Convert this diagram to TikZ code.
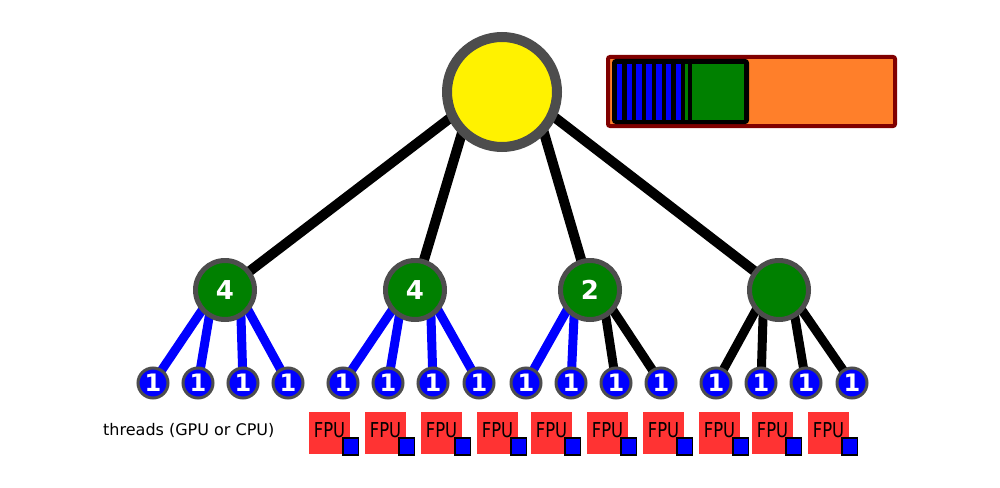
\documentclass[tikz,border=0pt]{standalone}
\usepackage{fontspec}
\setmainfont{DejaVu Sans}
\newfontfamily\fpufont[FakeStretch=0.8]{DejaVu Sans}
\usepackage{tikz}
\usetikzlibrary{backgrounds}

\definecolor{ringgray}{HTML}{4D4D4D}
\definecolor{fpured}{HTML}{FF3333}
\definecolor{barorange}{HTML}{FF7F2A}
\definecolor{bardark}{HTML}{800000}
\definecolor{darkgreen}{HTML}{008000}

\begin{document}
\begin{tikzpicture}[x=1pt, y=-1pt, rootnode/.style={circle, draw=ringgray, line width=10pt, fill=yellow, minimum size=110pt, inner sep=0pt}, groupnode/.style={circle, draw=ringgray, line width=5pt, fill=darkgreen, minimum size=59pt, inner sep=0pt, text=white, font=\fontsize{26}{26}\selectfont\bfseries}, threadnode/.style={circle, draw=ringgray, line width=3pt, fill=blue, minimum size=30pt, inner sep=0pt, text=white, font=\fontsize{24}{24}\selectfont\bfseries}, fpunode/.style={fill=fpured, minimum width=41pt, minimum height=42pt, inner sep=0pt, text depth=5pt, font=\fontsize{20.5}{20.5}\fpufont}, regbox/.style={draw=black, line width=1.5pt, fill=blue, minimum width=15.5pt, minimum height=17pt, inner sep=0pt, yshift=7.5pt, xshift=0.5pt}, topedge/.style={line width=10pt, shorten <=-12pt}, subedge/.style={line width=9pt, shorten <=-8pt}]

\useasboundingbox (0,0) rectangle (1000,487);

\node[rootnode] (root) at (502,92) {};

\node[groupnode] (n1) at (225,290) {4};
\node[groupnode] (n2) at (415,290) {4};
\node[groupnode] (n3) at (590,290) {2};
\node[groupnode] (n4) at (779,290) {};

\node[threadnode] (t1) at (153,383) {1};
\node[threadnode] (t2) at (198,383) {1};
\node[threadnode] (t3) at (243,383) {1};
\node[threadnode] (t4) at (288,383) {1};
\node[threadnode] (t5) at (343,383) {1};
\node[threadnode] (t6) at (388,383) {1};
\node[threadnode] (t7) at (433,383) {1};
\node[threadnode] (t8) at (479,383) {1};
\node[threadnode] (t9) at (526,383) {1};
\node[threadnode] (t10) at (571,383) {1};
\node[threadnode] (t11) at (616,383) {1};
\node[threadnode] (t12) at (661,383) {1};
\node[threadnode] (t13) at (716,383) {1};
\node[threadnode] (t14) at (761,383) {1};
\node[threadnode] (t15) at (806,383) {1};
\node[threadnode] (t16) at (852,383) {1};

\node[anchor=base west, inner sep=0pt, font=\fontsize{16}{16}\selectfont] (threads) at (103,435) {threads (GPU or CPU)};

\node[fpunode] (f1) at (329.5,433) {FPU};
\node[fpunode] (f2) at (385.5,433) {FPU};
\node[fpunode] (f3) at (441.5,433) {FPU};
\node[fpunode] (f4) at (497.5,433) {FPU};
\node[fpunode] (f5) at (551.5,433) {FPU};
\node[fpunode] (f6) at (607.5,433) {FPU};
\node[fpunode] (f7) at (663.5,433) {FPU};
\node[fpunode] (f8) at (719.5,433) {FPU};
\node[fpunode] (f9) at (772.5,433) {FPU};
\node[fpunode] (f10) at (828.5,433) {FPU};

\node[regbox] (r1) at (f1.south east) {};
\node[regbox] (r2) at (f2.south east) {};
\node[regbox] (r3) at (f3.south east) {};
\node[regbox] (r4) at (f4.south east) {};
\node[regbox] (r5) at (f5.south east) {};
\node[regbox] (r6) at (f6.south east) {};
\node[regbox] (r7) at (f7.south east) {};
\node[regbox] (r8) at (f8.south east) {};
\node[regbox] (r9) at (f9.south east) {};
\node[regbox] (r10) at (f10.south east) {};

\draw[bardark, line width=4pt, fill=barorange, rounded corners=2pt] (608,57) rectangle (895,126);
\draw[black, line width=4pt, fill=black, rounded corners=2pt] (614,61) rectangle (747,122);
\foreach \x in {616.7,626.5,636.3,646.1,655.9,665.7,675.5}
  \fill[blue] (\x,63.7) rectangle ++(5.6,56.6);
\fill[darkgreen] (685,63.7) rectangle (688.3,120.3);
\fill[darkgreen] (692.3,63.7) rectangle (744.3,120.3);

\begin{pgfonlayer}{background}
\fill[white] (0,0) rectangle (1000,487);
\draw[topedge] (root.207) -- (n1.center);
\draw[topedge] (root.227) -- (n2.center);
\draw[topedge] (root.315) -- (n3.center);
\draw[topedge] (root.334) -- (n4.center);
\draw[subedge, blue] (n1.222) -- (t1.center);
\draw[subedge, blue] (n1.240) -- (t2.center);
\draw[subedge, blue] (n1.300) -- (t3.center);
\draw[subedge, blue] (n1.318) -- (t4.center);
\draw[subedge, blue] (n2.222) -- (t5.center);
\draw[subedge, blue] (n2.240) -- (t6.center);
\draw[subedge, blue] (n2.300) -- (t7.center);
\draw[subedge, blue] (n2.318) -- (t8.center);
\draw[subedge, blue] (n3.222) -- (t9.center);
\draw[subedge, blue] (n3.240) -- (t10.center);
\draw[subedge] (n3.300) -- (t11.center);
\draw[subedge] (n3.318) -- (t12.center);
\draw[subedge] (n4.222) -- (t13.center);
\draw[subedge] (n4.240) -- (t14.center);
\draw[subedge] (n4.300) -- (t15.center);
\draw[subedge] (n4.318) -- (t16.center);
\end{pgfonlayer}
\end{tikzpicture}
\end{document}
